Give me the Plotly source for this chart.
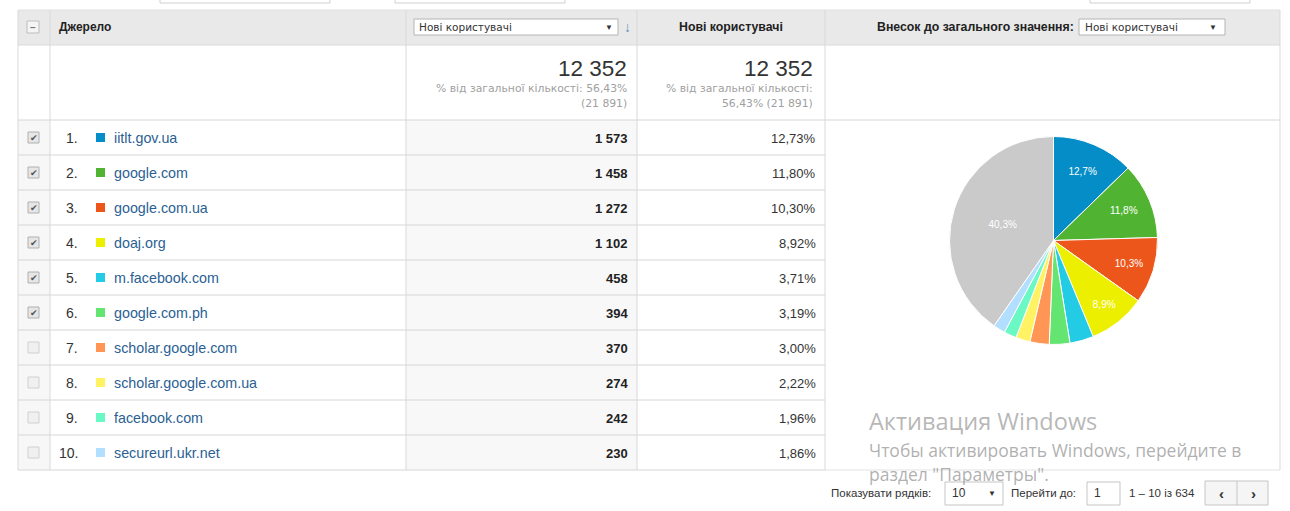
import plotly.graph_objects as go

# ---------------- data ----------------
sources = ["iitlt.gov.ua", "google.com", "google.com.ua", "doaj.org", "m.facebook.com",
           "google.com.ph", "scholar.google.com", "scholar.google.com.ua", "facebook.com",
           "secureurl.ukr.net"]
new_users = [1573, 1458, 1272, 1102, 458, 394, 370, 274, 242, 230]
share_pct = [12.73, 11.80, 10.30, 8.92, 3.71, 3.19, 3.00, 2.22, 1.96, 1.86]
checked = [True, True, True, True, True, True, False, False, False, False]
series_colors = ["#058dc7", "#50b432", "#ed561b", "#edef00", "#24cbe5",
                 "#64e572", "#ff9655", "#fff263", "#6af9c4", "#b2deff"]
other_color = "#cacaca"
total_users = 12352
total_all = 21891
total_share = 56.43
total_rows = 634
rows_per_page = 10
metric_name = "Нові користувачі"
dim_name = "Джерело"

W, H = 1290, 511
FONT = "Arial, Liberation Sans, sans-serif"
WIDE = "DejaVu Sans, Verdana, sans-serif"

def fmt_int(v):
    return f"{v:,}".replace(",", " ")

def fmt_pct(p, d=2):
    return f"{p:.{d}f}".replace(".", ",") + "%"

shapes = []
ann = []

def rect(x0, y0, x1, y1, fill=None, line=None, lw=1):
    shapes.append(dict(type="rect", xref="x", yref="y", x0=x0, y0=y0, x1=x1, y1=y1,
                       fillcolor=fill if fill else "rgba(0,0,0,0)",
                       line=dict(color=line if line else "rgba(0,0,0,0)", width=lw if line else 0),
                       layer="below"))

def hline(x0, x1, y, color="#dcdcdc"):
    shapes.append(dict(type="line", xref="x", yref="y", x0=x0, x1=x1, y0=y, y1=y,
                       line=dict(color=color, width=1), layer="below"))

def vline(x, y0, y1, color="#dcdcdc"):
    shapes.append(dict(type="line", xref="x", yref="y", x0=x, x1=x, y0=y0, y1=y1,
                       line=dict(color=color, width=1), layer="below"))

def text(x, y, s, size=12, color="#333", anchor="left", bold=False, family=FONT):
    if bold:
        s = "<b>" + s + "</b>"
    ann.append(dict(x=x, y=y, xref="x", yref="y", text=s, showarrow=False,
                    xanchor=anchor, yanchor="middle", borderpad=0,
                    font=dict(size=size, color=color, family=family)))

# column geometry
X0, XC, X1, X2, X3, X4 = 18, 50, 406, 637, 825, 1280
HEAD_T, HEAD_B, SUM_B = 10, 45, 120
ROW_H = 35
TABLE_B = SUM_B + ROW_H * len(sources)

# top partial controls
for a, b in [(160, 330), (395, 565), (1090, 1250)]:
    rect(a, -6, b, 3, fill="#ffffff", line="#d0d0d0")

# header
rect(X0, HEAD_T, X4, HEAD_B, fill="#e9e9e9")
# checkbox column background in data rows
rect(X0, SUM_B, XC, TABLE_B, fill="#f7f7f7")
# sorted column background
rect(X1, SUM_B, X2, TABLE_B, fill="#f8f8f8")

# grid lines
hline(X0, X4, HEAD_T, "#e0e0e0")
hline(X0, X4, HEAD_B, "#dadada")
hline(X0, X4, SUM_B, "#d6d6d6")
for i in range(1, len(sources)):
    hline(X0, X3, SUM_B + i * ROW_H, "#d6d6d6")
hline(X0, X3, TABLE_B, "#d6d6d6")
hline(X3, X4, TABLE_B, "#e3e3e3")
for x in [X0, XC, X1, X2, X3, X4]:
    vline(x, HEAD_T, TABLE_B, "#d9d9d9")

# header contents
rect(27, 21, 39, 33, fill="#f4f4f4", line="#bdbdbd")
text(33, 27, "–", size=10, color="#777", anchor="center", bold=True)
text(58, 27, dim_name, size=12, color="#222", bold=True)
rect(414, 19, 618, 35, fill="#ffffff", line="#b5b5b5")
text(418, 27, metric_name, size=10.5, color="#333", family=WIDE)
text(609, 27, "▼", size=8, color="#333", anchor="center")
text(627, 27, "↓", size=14, color="#6b8fbf", anchor="center", bold=True)
text((X2 + X3) / 2, 27, metric_name, size=12.3, color="#222", anchor="center", bold=True)
text(1075, 27, "Внесок до загального значення:", size=12.3, color="#222", anchor="right", bold=True)
rect(1079, 19, 1225, 35, fill="#ffffff", line="#b5b5b5")
text(1084, 27, metric_name, size=10.5, color="#333", family=WIDE)
text(1213, 27, "▼", size=8, color="#333", anchor="center")

# summary row
for xr, lines in [(628, [f"% від загальної кількості: {fmt_pct(total_share)}",
                         f"({fmt_int(total_all)})"]),
                  (814, ["% від загальної кількості:",
                         f"{fmt_pct(total_share)} ({fmt_int(total_all)})"])]:
    text(xr, 68, fmt_int(total_users), size=22.5, color="#333", anchor="right")
    text(xr, 88, lines[0], size=10.8, color="#a0a0a0", anchor="right", family=WIDE)
    text(xr, 103, lines[1], size=10.8, color="#a0a0a0", anchor="right", family=WIDE)

# data rows
for i, (src, v, p, ck, col) in enumerate(zip(sources, new_users, share_pct, checked, series_colors)):
    yc = SUM_B + ROW_H * i + ROW_H / 2 + 0.5
    if ck:
        rect(28, yc - 6, 39, yc + 5, fill="#e6e6e6", line="#b0b0b0")
        text(33.5, yc - 0.5, "✔", size=9, color="#555", anchor="center")
    else:
        rect(28, yc - 6, 39, yc + 5, fill="#f0f0f0", line="#d0d0d0")
    text(79, yc, f"{i + 1}.", size=14, color="#333", anchor="right")
    rect(96, yc - 5, 105, yc + 4, fill=col)
    text(113, yc, src, size=14.3, color="#2b5f93")
    text(629, yc, fmt_int(v), size=13, color="#222", anchor="right", bold=True)
    text(817, yc, fmt_pct(p), size=13, color="#333", anchor="right")

# footer / pagination
FY = 493
FS = 11.5
text(830, FY, "Показувати рядків:", size=FS, color="#333")
rect(945, 482, 1003, 505, fill="#ffffff", line="#c5c5c5")
text(951, FY, str(rows_per_page), size=12, color="#333")
text(992, FY, "▼", size=8, color="#333", anchor="center")
text(1010, FY, "Перейти до:", size=FS, color="#333")
rect(1087, 482, 1120, 505, fill="#ffffff", line="#c5c5c5")
text(1093, FY, "1", size=12, color="#333")
text(1128, FY, f"1 – {rows_per_page} із {total_rows}", size=FS, color="#333")
rect(1205, 481, 1268, 505, fill="#f5f5f5", line="#c5c5c5")
vline(1237, 481, 505, "#c5c5c5")
text(1221, FY, "‹", size=15, color="#333", anchor="center", bold=True)
text(1253, FY, "›", size=15, color="#333", anchor="center", bold=True)

# windows watermark
WF = "Segoe UI, Open Sans, Noto Sans, sans-serif"
text(868, 421, "Активация Windows", size=23.5, color="rgba(160,160,160,0.75)", family=WF)
text(868, 450, "Чтобы активировать Windows, перейдите в", size=17.5, color="rgba(150,150,150,0.75)", family=WF)
text(868, 474, "раздел \"Параметры\".", size=17.5, color="rgba(150,150,150,0.75)", family=WF)

# ---------------- pie ----------------
other = total_users - sum(new_users)
pie_vals = new_users + [other]
pie_cols = series_colors + [other_color]
pie_labels = sources + ["Інші"]
pie_text = []
for v in pie_vals:
    p = v / total_users * 100
    pie_text.append(fmt_pct(p, 1) if p >= 5 else "")

cx, cy, r = 1053.5, 240.5, 104
fig = go.Figure()
fig.add_trace(go.Pie(
    values=pie_vals, labels=pie_labels, text=pie_text, textinfo="text",
    textposition="inside", insidetextorientation="horizontal",
    sort=False, direction="clockwise", rotation=0,
    marker=dict(colors=pie_cols, line=dict(color="#ffffff", width=1)),
    textfont=dict(color="#ffffff", size=10, family=FONT),
    domain=dict(x=[(cx - r) / W, (cx + r) / W], y=[1 - (cy + r) / H, 1 - (cy - r) / H]),
    showlegend=False, hoverinfo="skip",
))

fig.update_layout(
    width=W, height=H, margin=dict(l=0, r=0, t=0, b=0),
    paper_bgcolor="#ffffff", plot_bgcolor="#ffffff",
    xaxis=dict(range=[0, W], visible=False, fixedrange=True),
    yaxis=dict(range=[H, 0], visible=False, fixedrange=True),
    shapes=shapes, annotations=ann, showlegend=False,
)
fig.write_html("out.html", config={"displayModeBar": False},
               post_script="document.body.style.margin='0';document.body.style.overflow='hidden';")
